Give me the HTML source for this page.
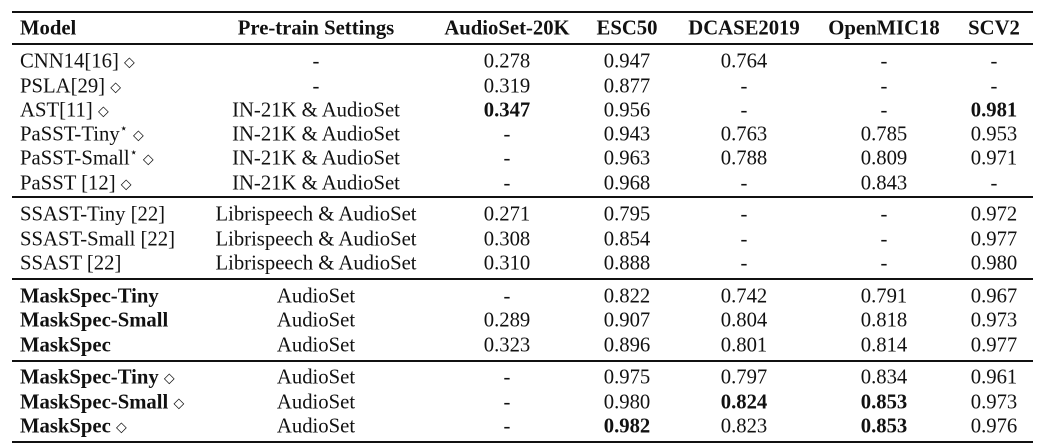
<!DOCTYPE html>
<html><head><meta charset="utf-8"><style>
body{margin:0;background:#fff;width:1043px;height:448px;position:relative;overflow:hidden;font-family:"Liberation Serif",serif;font-size:20.7px;color:#111}
.l{position:absolute;left:12px;width:1021px;background:#111}
.c{position:absolute;transform:translate(-50%,-50%);white-space:nowrap}
.m{position:absolute;left:20px;transform:translateY(-50%);white-space:nowrap}
b{font-weight:bold}
.d{font-size:14px;position:relative;top:-1px}
sup{font-size:13px;line-height:0}
</style></head><body>
<div class="l" style="top:11px;height:2px"></div>
<div class="l" style="top:43px;height:1.5px"></div>
<div class="l" style="top:196px;height:1.5px"></div>
<div class="l" style="top:278px;height:1.5px"></div>
<div class="l" style="top:360px;height:1.5px"></div>
<div class="l" style="top:441px;height:2px"></div>
<div id="t"></div>
<script>
const cols=[316,507,627,744,884,994];
const rows=[
[29,"<b>Model</b>",["<b>Pre-train Settings</b>","<b>AudioSet-20K</b>","<b>ESC50</b>","<b>DCASE2019</b>","<b>OpenMIC18</b>","<b>SCV2</b>"]],
[62,"CNN14[16] <span class=d>◇</span>",["-","0.278","0.947","0.764","-","-"]],
[87,"PSLA[29] <span class=d>◇</span>",["-","0.319","0.877","-","-","-"]],
[111,"AST[11] <span class=d>◇</span>",["IN-21K &amp; AudioSet","<b>0.347</b>","0.956","-","-","<b>0.981</b>"]],
[135,"PaSST-Tiny<sup>⋆</sup> <span class=d>◇</span>",["IN-21K &amp; AudioSet","-","0.943","0.763","0.785","0.953"]],
[159,"PaSST-Small<sup>⋆</sup> <span class=d>◇</span>",["IN-21K &amp; AudioSet","-","0.963","0.788","0.809","0.971"]],
[184,"PaSST [12] <span class=d>◇</span>",["IN-21K &amp; AudioSet","-","0.968","-","0.843","-"]],
[215,"SSAST-Tiny [22]",["Librispeech &amp; AudioSet","0.271","0.795","-","-","0.972"]],
[240,"SSAST-Small [22]",["Librispeech &amp; AudioSet","0.308","0.854","-","-","0.977"]],
[264,"SSAST [22]",["Librispeech &amp; AudioSet","0.310","0.888","-","-","0.980"]],
[297,"<b>MaskSpec-Tiny</b>",["AudioSet","-","0.822","0.742","0.791","0.967"]],
[321,"<b>MaskSpec-Small</b>",["AudioSet","0.289","0.907","0.804","0.818","0.973"]],
[346,"<b>MaskSpec</b>",["AudioSet","0.323","0.896","0.801","0.814","0.977"]],
[378,"<b>MaskSpec-Tiny</b> <span class=d>◇</span>",["AudioSet","-","0.975","0.797","0.834","0.961"]],
[403,"<b>MaskSpec-Small</b> <span class=d>◇</span>",["AudioSet","-","0.980","<b>0.824</b>","<b>0.853</b>","0.973"]],
[427,"<b>MaskSpec</b> <span class=d>◇</span>",["AudioSet","-","<b>0.982</b>","0.823","<b>0.853</b>","0.976"]]];
let h="";
for(const [y,m,v] of rows){h+=`<div class=m style="top:${y}px">${m}</div>`;
v.forEach((s,i)=>h+=`<div class=c style="left:${cols[i]}px;top:${y}px">${s}</div>`);}
document.getElementById("t").innerHTML=h;
</script>
</body></html>
